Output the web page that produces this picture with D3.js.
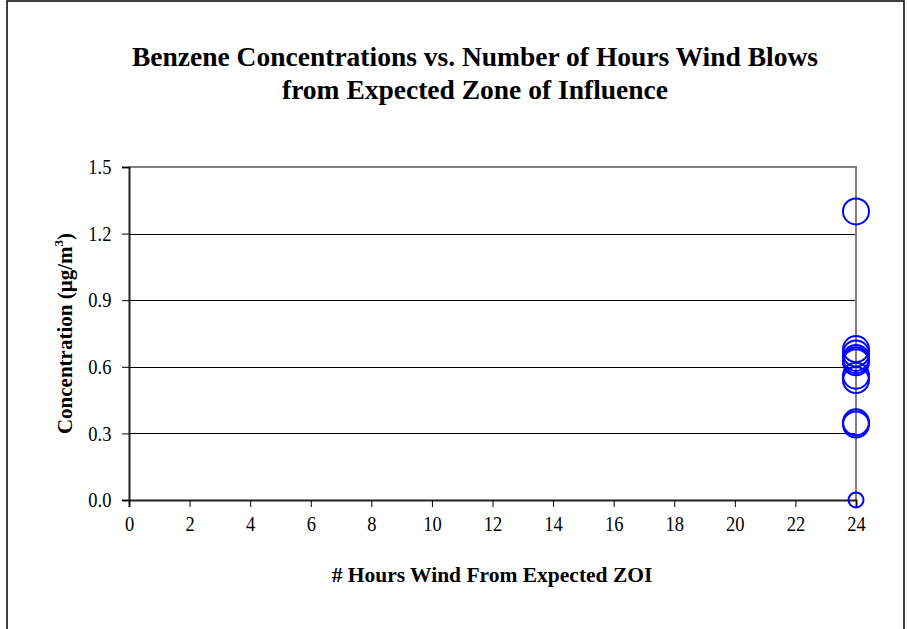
<!DOCTYPE html>
<html>
<head>
<meta charset="utf-8">
<script src="https://cdn.jsdelivr.net/npm/d3@7"></script>
<style>
  body { margin: 0; background: #fff; }
  text { font-family: "Liberation Serif", "Times New Roman", serif; }
</style>
</head>
<body>
<svg id="chart" width="907" height="629"></svg>
<script>
// data
var hours = [24, 24, 24, 24, 24, 24, 24, 24, 24, 24, 24];
var concentrations = [1.30, 0.68, 0.66, 0.64, 0.63, 0.62, 0.56, 0.54, 0.35, 0.34, 0.0];
var markerSizes = [13, 13, 13, 13, 13, 13, 13, 13, 13, 13, 7.5];
var xTicks = [0, 2, 4, 6, 8, 10, 12, 14, 16, 18, 20, 22, 24];
var yTicks = [0.0, 0.3, 0.6, 0.9, 1.2, 1.5];

var svg = d3.select('#chart');
var margin = { top: 167, left: 129, right: 51, bottom: 129 };
var width = 907 - margin.left - margin.right;
var height = 629 - margin.top - margin.bottom;

// outer chart border
svg.append('rect')
   .attr('x', 7).attr('y', 1)
   .attr('width', 897).attr('height', 640)
   .attr('fill', 'none').attr('stroke', '#000').attr('stroke-width', 1.5);

var x = d3.scaleLinear().domain([0, 24]).range([0, width]);
var y = d3.scaleLinear().domain([0, 1.5]).range([height, 0]);

var g = svg.append('g').attr('transform', `translate(${margin.left},${margin.top})`);

// gridlines
g.selectAll('.grid').data(yTicks.filter(d => d > 0 && d < 1.5)).enter().append('line')
 .attr('x1', 0).attr('x2', width)
 .attr('y1', d => Math.round(y(d)) + 0.5).attr('y2', d => Math.round(y(d)) + 0.5)
 .attr('stroke', '#000').attr('stroke-width', 1);

// plot border (top/right gray)
g.append('path')
 .attr('d', `M0,0H${width}V${height}`)
 .attr('fill', 'none').attr('stroke', '#808080').attr('stroke-width', 2);

var yAxis = g.append('g').call(d3.axisLeft(y).tickValues(yTicks).tickFormat(d3.format('.1f')).tickSize(7).tickPadding(13));
var xAxis = g.append('g').attr('transform', `translate(0,${height})`)
             .call(d3.axisBottom(x).tickValues(xTicks).tickSize(7).tickPadding(9));

[yAxis, xAxis].forEach(function(a) {
  a.select('.domain').attr('stroke', '#222').attr('stroke-width', 2);
  a.selectAll('.tick line').attr('stroke', '#000').attr('stroke-width', 1);
  a.selectAll('.tick text').attr('font-family', '"Liberation Serif", serif').attr('font-size', 21)
   .attr('fill', '#000').attr('transform', 'scale(0.88,1)');
});

// markers
g.selectAll('circle').data(concentrations).enter().append('circle')
 .attr('cx', (d, i) => x(hours[i]))
 .attr('cy', d => y(d))
 .attr('r', (d, i) => markerSizes[i])
 .attr('fill', 'none').attr('stroke', '#0000ff').attr('stroke-width', 2);

// titles
var title = svg.append('text').attr('text-anchor', 'middle')
               .attr('font-weight', 'bold').attr('font-size', 27.5);
title.append('tspan').attr('x', 475).attr('y', 66).text('Benzene Concentrations vs. Number of Hours Wind Blows');
title.append('tspan').attr('x', 475).attr('y', 99).text('from Expected Zone of Influence');

svg.append('text').attr('text-anchor', 'middle')
   .attr('x', 492).attr('y', 582)
   .attr('font-weight', 'bold').attr('font-size', 21.5)
   .text('# Hours Wind From Expected ZOI');

var yTitle = svg.append('text').attr('text-anchor', 'middle')
   .attr('transform', `translate(72,${margin.top + height / 2}) rotate(-90)`)
   .attr('font-weight', 'bold').attr('font-size', 21);
yTitle.append('tspan').text('Concentration (µg/m');
yTitle.append('tspan').attr('font-size', 13).attr('dy', -9).text('3');
yTitle.append('tspan').attr('dy', 9).text(')');
</script>
</body>
</html>
